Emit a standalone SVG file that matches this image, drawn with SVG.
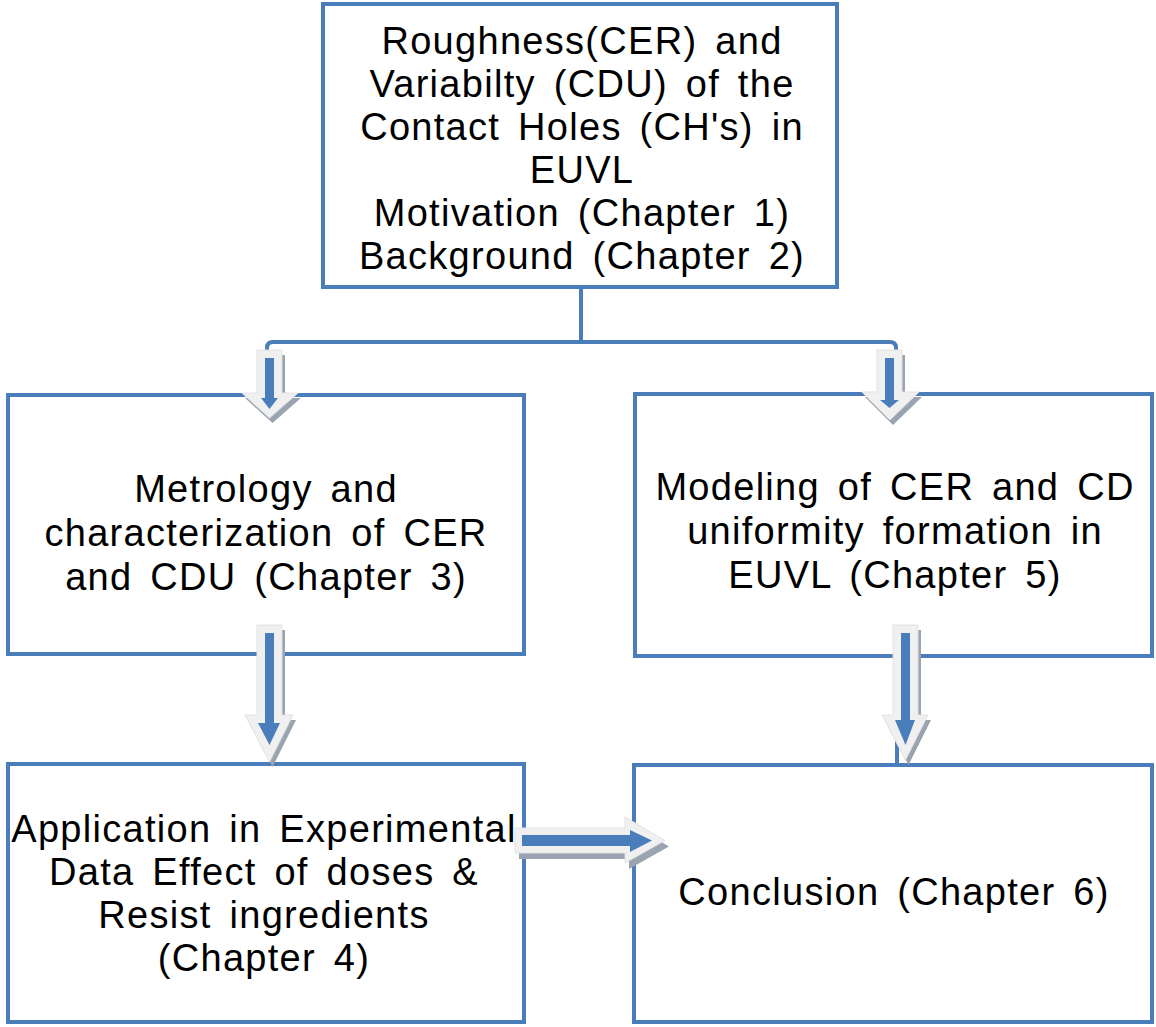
<svg xmlns="http://www.w3.org/2000/svg" width="1156" height="1027" viewBox="0 0 1156 1027">
<style>
.box{fill:#ffffff;stroke:#4a7ebb;stroke-width:4}
.t{font-family:"Liberation Sans",Arial,sans-serif;font-size:38px;letter-spacing:1.3px;word-spacing:6px;fill:#000;text-anchor:middle}
.conn{fill:none;stroke:#4a7ebb;stroke-width:4;stroke-linejoin:round}
.aout{fill:#f0f0f0;stroke:#e2e2e2;stroke-width:1}
.ash{fill:#9aa3b0}
.ain{fill:#4a7ebb}
</style>
<rect width="1156" height="1027" fill="#ffffff"/>
<g id="connectors">
<path class="conn" d="M581,288 V342"/>
<path class="conn" d="M267,358 V348 Q267,342 273,342 H890 Q896,342 896,348 V358"/>
<path class="conn" d="M897,740 V764"/>
</g>
<g id="node-top">
<rect class="box" x="323" y="4" width="514" height="283"/>
<text class="t" x="582" y="54">Roughness(CER) and</text>
<text class="t" x="582" y="97">Variabilty (CDU) of the</text>
<text class="t" x="582" y="140">Contact Holes (CH's) in</text>
<text class="t" x="582" y="183">EUVL</text>
<text class="t" x="582" y="226">Motivation (Chapter 1)</text>
<text class="t" x="582" y="269">Background (Chapter 2)</text>
</g>
<g id="node-ch3">
<rect class="box" x="8" y="395" width="516" height="259"/>
<text class="t" x="266" y="502">Metrology and</text>
<text class="t" x="266" y="546">characterization of CER</text>
<text class="t" x="266" y="590">and CDU (Chapter 3)</text>
</g>
<g id="node-ch5">
<rect class="box" x="635" y="394" width="517" height="262"/>
<text class="t" x="895" y="500">Modeling of CER and CD</text>
<text class="t" x="895" y="544">uniformity formation in</text>
<text class="t" x="895" y="588">EUVL (Chapter 5)</text>
</g>
<g id="node-ch4">
<rect class="box" x="8" y="764" width="516" height="258"/>
<text class="t" x="264" y="842">Application in Experimental</text>
<text class="t" x="264" y="885">Data Effect of doses &amp;</text>
<text class="t" x="264" y="928">Resist ingredients</text>
<text class="t" x="264" y="971">(Chapter 4)</text>
</g>
<g id="node-ch6">
<rect class="box" x="634" y="765" width="518" height="257"/>
<text class="t" x="894" y="905">Conclusion (Chapter 6)</text>
</g>
<g id="arrows">
<polygon class="ash" transform="translate(3,5)" points="257,350 282,350 282,393 298,393 269.5,418 242,393 257,393"/>
<polygon class="aout" points="257,350 282,350 282,393 298,393 269.5,418 242,393 257,393"/>
<polygon class="ain" points="265,358 274,358 274,398 278,398 269.5,409 261,398 265,398"/>
<polygon class="ash" transform="translate(3,5)" points="877,350 902,350 902,392 919,392 890,420 862,392 877,392"/>
<polygon class="aout" points="877,350 902,350 902,392 919,392 890,420 862,392 877,392"/>
<polygon class="ain" points="885,358 894,358 894,400 899,400 889.5,408 880,400 885,400"/>
<polygon class="ash" transform="translate(3,5)" points="257,625 282,625 282,715 293,715 269.5,762 245,715 257,715"/>
<polygon class="aout" points="257,625 282,625 282,715 293,715 269.5,762 245,715 257,715"/>
<polygon class="ain" points="265,633 274,633 274,723 280,723 269.5,745 258,723 265,723"/>
<polygon class="ash" transform="translate(3,5)" points="893,625 918,625 918,715 928,715 905.5,760 882,715 893,715"/>
<polygon class="aout" points="893,625 918,625 918,715 928,715 905.5,760 882,715 893,715"/>
<polygon class="ain" points="901,633 910,633 910,720 915,720 905.5,745 895,720 901,720"/>
<polygon class="ash" transform="translate(4,6)" points="515,828 625,828 625,817 665,840.5 625,863 625,853 515,853"/>
<polygon class="aout" points="515,828 625,828 625,817 665,840.5 625,863 625,853 515,853"/>
<polygon class="ain" points="522,835 630,835 630,830 652,840.5 630,852 630,846 522,846"/>
</g>
</svg>
